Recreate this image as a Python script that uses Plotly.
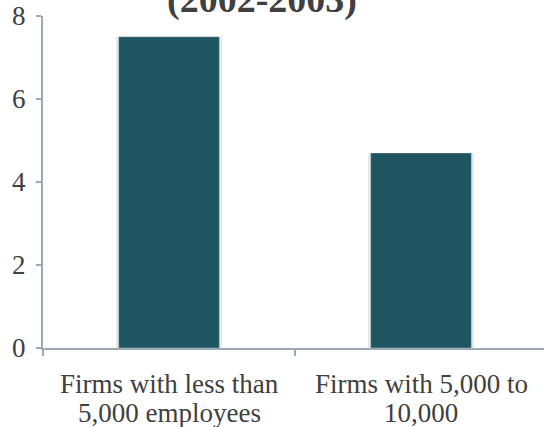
import plotly.graph_objects as go

# Chart data
categories = ["Firms with less than 5,000 employees", "Firms with 5,000 to 10,000"]
label_line1 = ["Firms with less than", "Firms with 5,000 to"]
label_line2 = ["5,000 employees", "10,000"]
values = [7.5, 4.7]
y_ticks = [0, 2, 4, 6, 8]
title_text = "(2002-2003)"

bar_color = "#1F5560"
axis_color = "#9BAAB7"
text_color = "#404040"
serif = "Liberation Serif, Times New Roman, serif"

fig = go.Figure()

# soft shadow behind the bars
fig.add_trace(go.Bar(
    x=categories, y=values, width=0.42,
    marker=dict(color="rgba(0,0,0,0.10)", line=dict(width=0)),
    hoverinfo="skip", showlegend=False,
))
fig.add_trace(go.Bar(
    x=categories, y=values, width=0.4,
    marker=dict(color=bar_color, line=dict(color="rgba(255,255,255,0.35)", width=1)),
    showlegend=False,
))

# two-line category labels under the axis, with tight line spacing
annotations = [dict(
    text=title_text, xref="paper", yref="paper",
    x=0.437, y=1.05, xanchor="center", yanchor="middle",
    showarrow=False,
    font=dict(family=serif, size=38, color=text_color, weight="bold"),
)]
for cat, l1, l2 in zip(categories, label_line1, label_line2):
    for line, ypos in ((l1, -0.108), (l2, -0.196)):
        annotations.append(dict(
            text=line, xref="x", yref="paper", x=cat, y=ypos,
            xanchor="center", yanchor="middle", showarrow=False,
            font=dict(family=serif, size=27, color=text_color),
        ))

fig.update_layout(
    width=544, height=427,
    margin=dict(l=43, r=0, t=16, b=79),
    barmode="overlay",
    plot_bgcolor="white", paper_bgcolor="white",
    font=dict(family=serif, size=26, color=text_color),
    annotations=annotations,
)

fig.update_xaxes(
    range=[-0.5, 1.488],
    showline=True, linecolor=axis_color, linewidth=2,
    ticks="outside", tickson="boundaries", ticklen=6, tickcolor=axis_color, tickwidth=1.5,
    showgrid=False, zeroline=False,
    automargin=False, showticklabels=False,
)
fig.update_yaxes(
    range=[0, 8], tickvals=y_ticks,
    showline=True, linecolor=axis_color, linewidth=2,
    ticks="outside", ticklen=5, tickcolor=axis_color, tickwidth=1.5,
    showgrid=False, zeroline=False,
    automargin=False,
    ticklabelstandoff=5,
    tickfont=dict(family=serif, size=27, color=text_color),
)

fig.write_html("out.html")
